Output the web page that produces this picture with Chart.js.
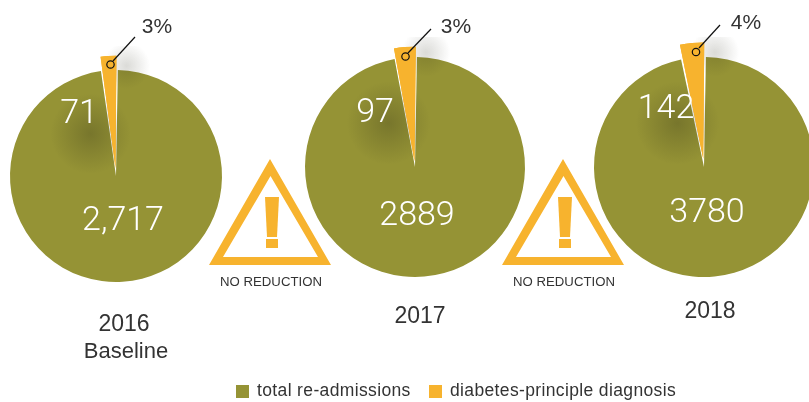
<!DOCTYPE html>
<html>
<head>
<meta charset="utf-8">
<script src="https://cdn.jsdelivr.net/npm/chart.js@4"></script>
<style>
html, body { margin: 0; padding: 0; background: #fff; }
#stage { position: relative; width: 809px; height: 402px; overflow: hidden; font-family: "Liberation Sans", sans-serif; color: #333; }
#stage canvas { position: absolute; }
#stage svg { position: absolute; left: 0; top: 0; }
.t { position: absolute; transform: translate(-50%, -50%); white-space: nowrap; line-height: 1; }
.w { color: #fff; font-family: Roboto, sans-serif; font-weight: 300; }
.swatch { position: absolute; width: 13px; height: 13px; top: 385px; }
.lg { letter-spacing: 0.36px; }
</style>
</head>
<body>
<div id="stage">
  <canvas id="pie2016" width="260" height="260" style="left:-14px;top:46px"></canvas>
  <canvas id="pie2017" width="260" height="260" style="left:285px;top:37px"></canvas>
  <canvas id="pie2018" width="260" height="260" style="left:574px;top:37px"></canvas>

  <svg width="809" height="402">
    <g id="warnings" fill="#F7B32E">
      <path fill-rule="evenodd" d="M270 159 L331 265 L209 265 Z M270.500 176 L223 257 L318 257 Z"/>
      <path d="M265 197 H279 L277 237 H267 Z"/><rect x="266" y="239" width="12" height="9"/>
      <path fill-rule="evenodd" d="M563 159 L624 265 L502 265 Z M563.500 176 L516 257 L611 257 Z"/>
      <path d="M558 197 H572 L570 237 H560 Z"/><rect x="559" y="239" width="12" height="9"/>
    </g>
    <g fill="none" stroke="#111" stroke-width="1.200">
      <path d="M135 37 L113 61"/><circle cx="110.500" cy="64.500" r="3.700"/>
      <path d="M431 29 L408 53"/><circle cx="405.500" cy="56.500" r="3.700"/>
      <path d="M720 25 L699 48"/><circle cx="696" cy="52" r="3.700"/>
    </g>
  </svg>

  <span class="t w" style="left:79px;top:111px;font-size:34px">71</span>
  <span class="t w" style="left:123px;top:218px;font-size:34px">2,717</span>
  <span class="t w" style="left:375px;top:110px;font-size:34px">97</span>
  <span class="t w" style="left:417px;top:213px;font-size:34px">2889</span>
  <span class="t w" style="left:666px;top:106px;font-size:34px">142</span>
  <span class="t w" style="left:707px;top:210px;font-size:34px">3780</span>

  <span class="t" style="left:157px;top:25px;font-size:21px">3%</span>
  <span class="t" style="left:456px;top:25px;font-size:21px">3%</span>
  <span class="t" style="left:746px;top:21px;font-size:21px">4%</span>

  <span class="t" style="left:124px;top:323px;font-size:23px">2016</span>
  <span class="t" style="left:126px;top:351px;font-size:22px">Baseline</span>
  <span class="t" style="left:420px;top:315px;font-size:23px">2017</span>
  <span class="t" style="left:710px;top:310px;font-size:23px">2018</span>

  <span class="t" style="left:271px;top:282px;font-size:13.200px">NO REDUCTION</span>
  <span class="t" style="left:564px;top:282px;font-size:13.200px">NO REDUCTION</span>

  <span class="swatch" style="left:236px;background:#959335"></span>
  <span class="t lg" style="left:257px;top:391px;font-size:17.500px;transform:translateY(-50%)">total re-admissions</span>
  <span class="swatch" style="left:429px;background:#F7B32E"></span>
  <span class="t lg" style="left:450px;top:391px;font-size:17.500px;transform:translateY(-50%)">diabetes-principle diagnosis</span>
</div>

<script>
const categories = ['total re-admissions', 'diabetes-principle diagnosis'];
const values2016 = [2717, 71];
const values2017 = [2889, 97];
const values2018 = [3780, 142];
const colors = ['#959335', '#F7B32E'];

function blob(ctx, x, y, r, alpha) {
    const g = ctx.createRadialGradient(x, y, 0, x, y, r);
    g.addColorStop(0, `rgba(40,40,20,${alpha})`);
    g.addColorStop(0.5, `rgba(40,40,20,${alpha * 0.5})`);
    g.addColorStop(1, 'rgba(40,40,20,0)');
    ctx.fillStyle = g;
    ctx.fillRect(x - r, y - r, 2 * r, 2 * r);
}

// soft shadow of the pulled out slice, then the slice again on top of it
const sliceShadow = {
    id: 'sliceShadow',
    afterDatasetsDraw(chart) {
        const arc = chart.getDatasetMeta(0).data[1];
        const ctx = chart.ctx;
        const r = chart.getDatasetMeta(0).data[0].outerRadius;
        ctx.save();
        blob(ctx, arc.x - 0.24 * r, arc.y - 0.4 * r, 0.38 * r, 0.27);
        blob(ctx, arc.x + 0.1 * r, arc.y - 1.04 * r, 0.22 * r, 0.17);
        ctx.restore();
        arc.draw(ctx);
    },
};

function drawPie(id, values, radius, pull) {
    new Chart(document.getElementById(id), {
        type: 'pie',
        data: {
            labels: categories,
            datasets: [
                {
                    data: values,
                    backgroundColor: colors,
                    borderWidth: 0,
                    offset: [0, pull],
                },
            ],
        },
        options: {
            responsive: false,
            animation: false,
            radius: radius,
            rotation: 1,
            layout: { padding: 0 },
            plugins: {
                legend: { display: false },
                tooltip: { enabled: false },
            },
        },
        plugins: [sliceShadow],
    });
}

drawPie('pie2016', values2016, 106, 31);
drawPie('pie2017', values2017, 110, 23);
drawPie('pie2018', values2018, 110, 33);
</script>
</body>
</html>
